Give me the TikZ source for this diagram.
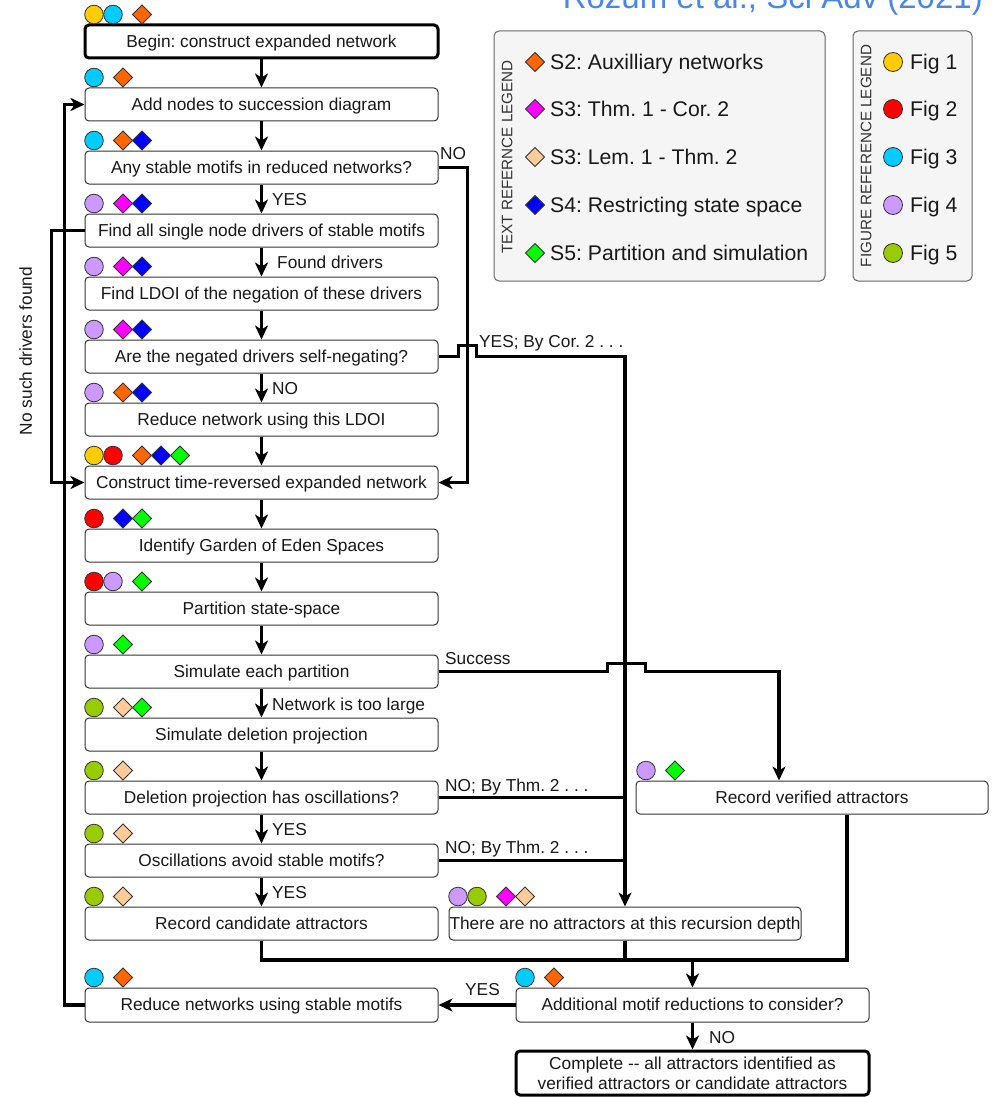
\documentclass[tikz,border=0pt]{standalone}
\usepackage{fontspec}
\setmainfont{Liberation Sans}
\frenchspacing
\usetikzlibrary{arrows.meta}
\definecolor{cyel}{HTML}{FFCC00}
\definecolor{cred}{HTML}{FF0000}
\definecolor{ccya}{HTML}{00CCFF}
\definecolor{clav}{HTML}{CC99FF}
\definecolor{coli}{HTML}{99CC00}
\definecolor{dora}{HTML}{FF6600}
\definecolor{dmag}{HTML}{FF00FF}
\definecolor{dpea}{HTML}{FFCC99}
\definecolor{dblu}{HTML}{0000FF}
\definecolor{dgre}{HTML}{00FF00}
\definecolor{legfill}{HTML}{F5F5F5}
\definecolor{legline}{HTML}{666666}
\definecolor{boxline}{HTML}{333333}
\definecolor{titleblue}{HTML}{4A86E8}
\newcommand{\fsmain}{\fontsize{17.3}{20}\selectfont}
\newcommand{\fsleg}{\fontsize{21.2}{24}\selectfont}
\newcommand{\fslegt}{\fontsize{15.2}{18}\selectfont}
\tikzset{
  basebox/.style={draw=boxline, line width=1pt, rounded corners=4pt, fill=white,
    minimum width=353pt, minimum height=33pt, inner sep=0pt, font=\fsmain, text=black!90},
  box/.style={basebox, text height=11.9pt, text depth=0pt},
  startbox/.style={box, draw=black, line width=3pt},
  conn/.style={line width=3.2pt, -{Stealth[length=14pt,width=13pt,inset=4pt]}},
  wire/.style={line width=3.2pt},
  lab/.style={anchor=west, inner sep=0pt, text height=11.9pt, text depth=0pt, font=\fsmain, text=black!90},
  icon/.style={draw=boxline, line width=0.8pt},
  legbox/.style={draw=legline, line width=1pt, fill=legfill, rounded corners=5pt, inner sep=0pt},
  legtext/.style={anchor=west, inner sep=0pt, text height=14.6pt, text depth=0pt, font=\fsleg, text=black!90},
  legtitle/.style={rotate=90, inner sep=0pt, text height=10.5pt, text depth=0pt, font=\fslegt, text=black!80},
}
% #1 left x, #2 box top y, #3 circle colours, #4 number of circles, #5 diamond colours
\newcommand{\iconrow}[5]{%
  \foreach \cc [count=\ii from 0] in {#3}{\filldraw[fill=\cc, icon] (#1+9+19*\ii, #2-10.5) circle (9.3pt);}%
  \foreach \dd [count=\jj from 0] in {#5}{\filldraw[fill=\dd, icon] (#1+19*#4+19+19*\jj, #2-10.5) ++(0,-9.5) -- ++(9.5,9.5) -- ++(-9.5,9.5) -- ++(-9.5,-9.5) -- cycle;}%
}
\newcommand{\legdia}[2]{\filldraw[fill=#2, icon] (535,#1) ++(0,-9.5) -- ++(9.5,9.5) -- ++(-9.5,9.5) -- ++(-9.5,-9.5) -- cycle;}
\newcommand{\legcirc}[2]{\filldraw[fill=#2, icon] (893,#1) circle (9.5pt);}
\begin{document}
\begin{tikzpicture}[x=1pt,y=-1pt]
\useasboundingbox[fill=white] (0,0) rectangle (993,1097);

% title (cut off at the top)
\node[anchor=base east, inner sep=0pt, font=\fontsize{33}{36}\selectfont, text=titleblue] (title) at (983,9) {Rozum et al., Sci Adv (2021)};

% legends
\node[legbox, minimum width=331pt, minimum height=250pt] (textleg) at (659.5,156) {};
\node[legbox, minimum width=119pt, minimum height=250pt] (figleg) at (912.5,156) {};
\node[legtitle] (textlegtitle) at (507,157) {TEXT REFERNCE LEGEND};
\node[legtitle] (figlegtitle) at (866,156) {FIGURE REFERENCE LEGEND};
\legdia{62}{dora}\node[legtext] (l1) at (550,62) {S2: Auxilliary networks};
\legdia{109}{dmag}\node[legtext] (l2) at (550,109) {S3: Thm. 1 - Cor. 2};
\legdia{157}{dpea}\node[legtext] (l3) at (550,157) {S3: Lem. 1 - Thm. 2};
\legdia{205}{dblu}\node[legtext] (l4) at (550,205) {S4: Restricting state space};
\legdia{253}{dgre}\node[legtext] (l5) at (550,253) {S5: Partition and simulation};
\legcirc{62}{cyel}\node[legtext] (f1) at (910,62) {Fig 1};
\legcirc{109}{cred}\node[legtext] (f2) at (910,109) {Fig 2};
\legcirc{157}{ccya}\node[legtext] (f3) at (910,157) {Fig 3};
\legcirc{205}{clav}\node[legtext] (f4) at (910,205) {Fig 4};
\legcirc{253}{coli}\node[legtext] (f5) at (910,253) {Fig 5};

% main boxes
\node[startbox] (begin) at (261.5,41.5) {Begin: construct expanded network};
\node[box] (add) at (261.5,104.5) {Add nodes to succession diagram};
\node[box] (any) at (261.5,167.5) {Any stable motifs in reduced networks?};
\node[box] (findall) at (261.5,230.5) {Find all single node drivers of stable motifs};
\node[box] (ldoi) at (261.5,293.5) {Find LDOI of the negation of these drivers};
\node[box] (neg) at (261.5,356.5) {Are the negated drivers self-negating?};
\node[box] (redl) at (261.5,419.5) {Reduce network using this LDOI};
\node[box] (cons) at (261.5,482.5) {Construct time-reversed expanded network};
\node[box] (eden) at (261.5,545.5) {Identify Garden of Eden Spaces};
\node[box] (part) at (261.5,608.5) {Partition state-space};
\node[box] (sim) at (261.5,671.5) {Simulate each partition};
\node[box] (del) at (261.5,734.5) {Simulate deletion projection};
\node[box] (osc) at (261.5,797.5) {Deletion projection has oscillations?};
\node[box] (avoid) at (261.5,860.5) {Oscillations avoid stable motifs?};
\node[box] (cand) at (261.5,923.5) {Record candidate attractors};
\node[box, minimum height=34pt] (redsm) at (261.5,1005) {Reduce networks using stable motifs};
\node[box, minimum width=352pt] (verified) at (812,797.5) {Record verified attractors};
\node[box, minimum width=352pt] (noattr) at (625,923.5) {There are no attractors at this recursion depth};
\node[box, minimum height=34pt] (addl) at (692.5,1005) {Additional motif reductions to consider?};
\node[basebox, draw=black, line width=3pt, minimum height=44pt, align=center] (complete) at (692.5,1073) {\raisebox{-2pt}{Complete {-}{-} all attractors identified as}\\\raisebox{-2pt}{verified attractors or candidate attractors}};

% icons
\iconrow{85}{25}{cyel,ccya}{2}{dora}
\iconrow{85}{88}{ccya}{1}{dora}
\iconrow{85}{151}{ccya}{1}{dora,dblu}
\iconrow{85}{214}{clav}{1}{dmag,dblu}
\iconrow{85}{277}{clav}{1}{dmag,dblu}
\iconrow{85}{340}{clav}{1}{dmag,dblu}
\iconrow{85}{403}{clav}{1}{dora,dblu}
\iconrow{85}{466}{cyel,cred}{2}{dora,dblu,dgre}
\iconrow{85}{529}{cred}{1}{dblu,dgre}
\iconrow{85}{592}{cred,clav}{2}{dgre}
\iconrow{85}{655}{clav}{1}{dgre}
\iconrow{85}{718}{coli}{1}{dpea,dgre}
\iconrow{85}{781}{coli}{1}{dpea}
\iconrow{85}{844}{coli}{1}{dpea}
\iconrow{85}{907}{coli}{1}{dpea}
\iconrow{85}{988}{ccya}{1}{dora}
\iconrow{637}{781}{clav}{1}{dgre}
\iconrow{449}{907}{clav,coli}{2}{dmag,dpea}
\iconrow{516}{988}{ccya}{1}{dora}

% main vertical flow
\draw[conn] (begin) -- (add);
\draw[conn] (add) -- (any);
\draw[conn] (any) -- (findall);
\draw[conn] (findall) -- (ldoi);
\draw[conn] (ldoi) -- (neg);
\draw[conn] (neg) -- (redl);
\draw[conn] (redl) -- (cons);
\draw[conn] (cons) -- (eden);
\draw[conn] (eden) -- (part);
\draw[conn] (part) -- (sim);
\draw[conn] (sim) -- (del);
\draw[conn] (del) -- (osc);
\draw[conn] (osc) -- (avoid);
\draw[conn] (avoid) -- (cand);

% side connectors
\draw[conn] (any.east) -- ++(29,0) |- (cons.east);
\draw[conn] (findall.west) -- ++(-33,0) |- (cons.west);
\draw[conn] (redsm.west) -- ++(-20,0) |- (add.west);
\draw[conn] (neg.east) -- ++(20,0) -- ++(0,-11) -- ++(18,0) -- ++(0,11) -| (noattr.north);
\draw[conn] (sim.east) -- ++(169,0) -- ++(0,-8) -- ++(38,0) -- ++(0,8) -| ([xshift=-33pt]verified.north);
\draw[wire] (osc.east) -- (osc.east -| noattr.north);
\draw[wire] (avoid.east) -- (avoid.east -| noattr.north);

% merge bus
\coordinate (bus) at (0,960);
\draw[wire] (cand.south) |- ([xshift=35pt]verified.south |- bus) -- ([xshift=35pt]verified.south);
\draw[wire] (noattr.south) -- (noattr.south |- bus);
\draw[conn] (addl.north |- bus) -- (addl.north);
\draw[conn] (addl.west) -- (redsm.east);
\draw[conn] (addl.south) -- (complete.north);

% labels
\node[lab] (tyes1) at (272,200) {YES};
\node[lab] (tfound) at (277,263) {Found drivers};
\node[lab] (tno1) at (272,389) {NO};
\node[lab] (tlarge) at (272,705) {Network is too large};
\node[lab] (tyes2) at (272,830) {YES};
\node[lab] (tyes3) at (272,893) {YES};
\node[lab] (tno2) at (440,154) {NO};
\node[lab] (tcor) at (479,342) {YES; By Cor. 2 . . .};
\node[lab] (tsucc) at (445,659) {Success};
\node[lab] (tthm1) at (445,786) {NO; By Thm. 2 . . .};
\node[lab] (tthm2) at (445,848) {NO; By Thm. 2 . . .};
\node[lab] (tyes4) at (465,990) {YES};
\node[lab] (tno3) at (709,1038) {NO};
\node[lab, anchor=center, rotate=90] (tnosuch) at (26,351) {No such drivers found};
\end{tikzpicture}
\end{document}
